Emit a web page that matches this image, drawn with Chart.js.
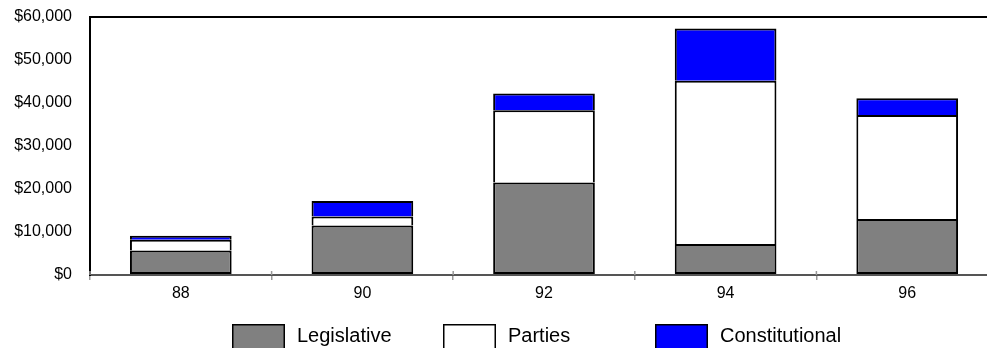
<!DOCTYPE html>
<html>
<head>
<meta charset="utf-8">
<script src="https://cdn.jsdelivr.net/npm/chart.js@4/dist/chart.umd.min.js"></script>
<style>
  html, body { margin: 0; padding: 0; background: #fff; overflow: hidden; }
  #wrap { position: relative; width: 998px; height: 348px; }
</style>
</head>
<body>
<div id="wrap"><canvas id="c"></canvas></div>
<script>
// Election years and spending by type (dollars)
const years = ['88', '90', '92', '94', '96'];
const legislative = [5700, 11500, 21500, 7200, 13000];
const parties = [2500, 2100, 16800, 38000, 24200];
const constitutional = [900, 3600, 3900, 12100, 3900];
const yTicks = [0, 10000, 20000, 30000, 40000, 50000, 60000];

const FONT = '"Liberation Sans", Arial, sans-serif';

// Legend drawn as evenly spaced boxed items below the axis
const boxLegend = {
  id: 'boxLegend',
  afterDraw(chart) {
    const ctx = chart.ctx;
    const starts = [232, 443, 655];
    ctx.save();
    ctx.font = '20px ' + FONT;
    ctx.textBaseline = 'alphabetic';
    ctx.textAlign = 'left';
    chart.data.datasets.forEach((ds, i) => {
      const x = starts[i];
      ctx.fillStyle = ds.backgroundColor;
      ctx.fillRect(x, 324, 53, 26);
      ctx.strokeStyle = '#000';
      ctx.lineWidth = 1.5;
      ctx.strokeRect(x + 0.75, 324.75, 51.5, 24.5);
      ctx.fillStyle = '#000';
      ctx.fillText(ds.label, x + 65, 342);
    });
    ctx.restore();
  }
};

// Short tick stubs that cross the category axis at each boundary
const axisStubs = {
  id: 'axisStubs',
  afterDraw(chart) {
    const x = chart.scales.x;
    const ctx = chart.ctx;
    const y0 = chart.chartArea.bottom;
    const n = chart.data.labels.length;
    const step = x.getPixelForTick(1) - x.getPixelForTick(0);
    ctx.save();
    ctx.strokeStyle = '#999';
    ctx.lineWidth = 1.5;
    for (let i = 0; i <= n; i++) {
      const px = x.getPixelForTick(0) - step / 2 + i * step;
      ctx.beginPath();
      ctx.moveTo(px, y0 - 4);
      ctx.lineTo(px, y0);
      ctx.stroke();
    }
    ctx.restore();
  }
};

const common = { borderColor: '#000', borderSkipped: false,
  categoryPercentage: 1, barPercentage: 0.56 };

new Chart(document.getElementById('c'), {
  type: 'bar',
  data: {
    labels: years,
    datasets: [
      Object.assign({ label: 'Legislative', data: legislative, backgroundColor: '#808080',
        borderWidth: { top: 2, bottom: 2, left: 2, right: 2 } }, common),
      Object.assign({ label: 'Parties', data: parties, backgroundColor: '#ffffff',
        borderWidth: { top: 2, bottom: 0, left: 2, right: 2 } }, common),
      Object.assign({ label: 'Constitutional', data: constitutional, backgroundColor: '#0000ff',
        borderWidth: { top: 2, bottom: 0, left: 2, right: 2 } }, common)
    ]
  },
  options: {
    responsive: true,
    maintainAspectRatio: false,
    devicePixelRatio: 1,
    animation: false,
    layout: { padding: { top: 17, left: 0, right: 0, bottom: 43 } },
    plugins: { legend: { display: false }, tooltip: { enabled: false } },
    scales: {
      x: {
        stacked: true,
        afterFit(scale) { scale.height = 30; },
        border: { display: true, color: '#555', width: 2 },
        grid: { display: true, drawOnChartArea: false, drawTicks: true, tickLength: 5,
                color: '#999', lineWidth: 1.5, offset: true },
        ticks: { color: '#000', font: { family: FONT, size: 16 }, padding: 4 }
      },
      y: {
        stacked: true,
        min: 0,
        max: 60000,
        afterFit(scale) { scale.width = 90; scale.paddingTop = 0; scale.paddingBottom = 0; },
        afterBuildTicks(scale) { scale.ticks = yTicks.map(v => ({ value: v })); },
        border: { display: true, color: '#000', width: 2 },
        grid: {
          drawTicks: false,
          lineWidth: 2,
          color: (c) => (c.tick && c.tick.value === 60000 ? '#000' : 'rgba(0,0,0,0)')
        },
        ticks: {
          color: '#000',
          font: { family: FONT, size: 16 },
          padding: 18,
          callback: (v) => '$' + Number(v).toLocaleString('en-US')
        }
      }
    }
  },
  plugins: [boxLegend, axisStubs]
});
</script>
</body>
</html>
